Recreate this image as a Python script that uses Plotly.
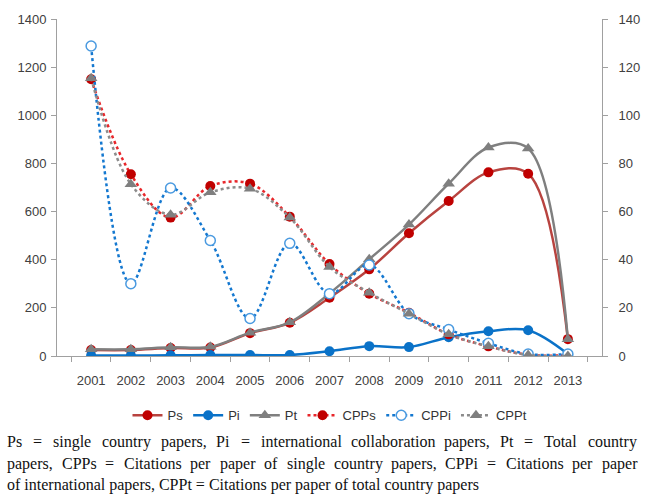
import plotly.graph_objects as go

years = [str(y) for y in range(2001, 2014)]

# paper counts (left axis)
ps = [25, 25, 33, 35, 95, 138, 242, 360, 510, 644, 763, 757, 70]
pi = [2, 2, 3, 4, 4, 4, 20, 41, 37, 78, 103, 107, 8]
pt = [28, 28, 36, 38, 97, 140, 260, 402, 546, 716, 866, 862, 70]

# citations per paper (right axis)
cpps = [115, 75.5, 57.5, 70.6, 71.6, 57.9, 38.2, 25.9, 18, 9, 4, 0.5, 0.3]
cppi = [128.8, 30, 69.8, 48, 15.6, 46.8, 25.9, 37.8, 17.6, 11, 5.3, 0.8, 0.8]
cppt = [115.4, 71.4, 58.7, 68, 69.5, 57.5, 37, 26.3, 17.6, 9, 4, 0.4, 0]

caption_lines = [
    "Ps = single country papers, Pi = international collaboration papers, Pt = Total country",
    "papers, CPPs = Citations per paper of single country papers, CPPi = Citations per paper",
    "of international papers, CPPt = Citations per paper of total country papers",
]

RED_LINE = "#b8433f"
RED = "#c00000"
BLUE = "#0a72c8"
GRAY = "#7f7f7f"

fig = go.Figure()

fig.add_trace(go.Scatter(
    x=years, y=ps, name="Ps", mode="lines+markers",
    line=dict(color=RED_LINE, width=2.5, shape="spline"),
    marker=dict(symbol="circle", size=10, color=RED)))
fig.add_trace(go.Scatter(
    x=years, y=pi, name="Pi", mode="lines+markers",
    line=dict(color=BLUE, width=2.5, shape="spline"),
    marker=dict(symbol="circle", size=10, color=BLUE)))
fig.add_trace(go.Scatter(
    x=years, y=pt, name="Pt", mode="lines+markers",
    line=dict(color=GRAY, width=2.5, shape="spline"),
    marker=dict(symbol="triangle-up", size=11, color=GRAY)))
fig.add_trace(go.Scatter(
    x=years, y=cpps, name="CPPs", mode="lines+markers", yaxis="y2",
    line=dict(color="#e8262a", width=2.5, dash="dot", shape="spline"),
    marker=dict(symbol="circle", size=10, color=RED)))
fig.add_trace(go.Scatter(
    x=years, y=cppi, name="CPPi", mode="lines+markers", yaxis="y2",
    line=dict(color="#1478d0", width=2.5, dash="dot", shape="spline"),
    marker=dict(symbol="circle", size=10, color="white",
                line=dict(color="#4a9ae0", width=1.5))))
fig.add_trace(go.Scatter(
    x=years, y=cppt, name="CPPt", mode="lines+markers", yaxis="y2",
    line=dict(color="#8c8c8c", width=2.5, dash="dot", shape="spline"),
    marker=dict(symbol="triangle-up", size=11, color=GRAY)))

PLOT_TOP, PLOT_BOTTOM, PLOT_LEFT, PLOT_RIGHT = 15, 356, 57, 616


def ypaper(pix):
    return (PLOT_BOTTOM - pix) / (PLOT_BOTTOM - PLOT_TOP)


def xpaper(pix):
    return (pix - PLOT_LEFT) / (PLOT_RIGHT - PLOT_LEFT)


# Times-Roman advance widths (1/1000 em) for justifying the caption
TIMES_W = {
    "a": 444, "b": 500, "c": 444, "d": 500, "e": 444, "f": 333, "g": 500,
    "h": 500, "i": 278, "j": 278, "k": 500, "l": 278, "m": 778, "n": 500,
    "o": 500, "p": 500, "q": 500, "r": 333, "s": 389, "t": 278, "u": 500,
    "v": 500, "w": 722, "x": 500, "y": 500, "z": 444,
    "C": 667, "P": 556, "T": 611, "I": 333, ",": 250, "=": 564, " ": 250,
}
CAP_SIZE = 16
CAP_FONT = dict(family="Liberation Serif", size=CAP_SIZE, color="#111111")
CAP_LEFT, CAP_RIGHT = 5, 650


def word_width(word):
    return sum(TIMES_W.get(ch, 500) for ch in word) * CAP_SIZE / 1000.0


for idx, (line, ypix) in enumerate(zip(caption_lines, [443, 465, 487])):
    if idx == len(caption_lines) - 1:
        # last line of a justified paragraph stays left-aligned
        fig.add_annotation(
            text=line, xref="paper", yref="paper",
            x=xpaper(CAP_LEFT), y=ypaper(ypix), xanchor="left",
            yanchor="middle", showarrow=False, borderpad=0, font=CAP_FONT)
        continue
    words = line.split(" ")
    widths = [word_width(w) for w in words]
    gap = (CAP_RIGHT - CAP_LEFT - sum(widths)) / (len(words) - 1)
    xpos = CAP_LEFT
    for w, wd in zip(words, widths):
        fig.add_annotation(
            text=w, xref="paper", yref="paper",
            x=xpaper(xpos), y=ypaper(ypix), xanchor="left", yanchor="middle",
            showarrow=False, borderpad=0, font=CAP_FONT)
        xpos += wd + gap

axis_font = dict(family="Liberation Sans", size=13, color="#404040")

fig.update_layout(
    width=652, height=498,
    margin=dict(l=PLOT_LEFT, r=652 - PLOT_RIGHT, t=PLOT_TOP, b=498 - PLOT_BOTTOM),
    paper_bgcolor="white", plot_bgcolor="white",
    showlegend=True,
    legend=dict(orientation="h", x=xpaper(337), xanchor="center",
                y=ypaper(416), yanchor="middle",
                font=dict(family="Liberation Sans", size=13, color="#333333"),
                itemwidth=30, tracegroupgap=0),
    xaxis=dict(type="category", showgrid=False, showline=True,
               linecolor="#a0a0a0", linewidth=1, ticks="outside",
               tickson="boundaries", ticklen=5, tickcolor="#a0a0a0",
               tickfont=axis_font, zeroline=False, ticklabelstandoff=12),
    yaxis=dict(range=[0, 1400], dtick=200, showgrid=False, showline=True,
               linecolor="#a0a0a0", linewidth=1, ticks="outside", ticklen=5,
               tickcolor="#a0a0a0", tickfont=axis_font, zeroline=False,
               ticklabelstandoff=2),
    yaxis2=dict(range=[0, 140], dtick=20, overlaying="y", side="right",
                showgrid=False, showline=True, linecolor="#a0a0a0",
                linewidth=1, ticks="outside", ticklen=5, tickcolor="#a0a0a0",
                tickfont=axis_font, zeroline=False, ticklabelstandoff=8),
)

fig.write_html("out.html")
